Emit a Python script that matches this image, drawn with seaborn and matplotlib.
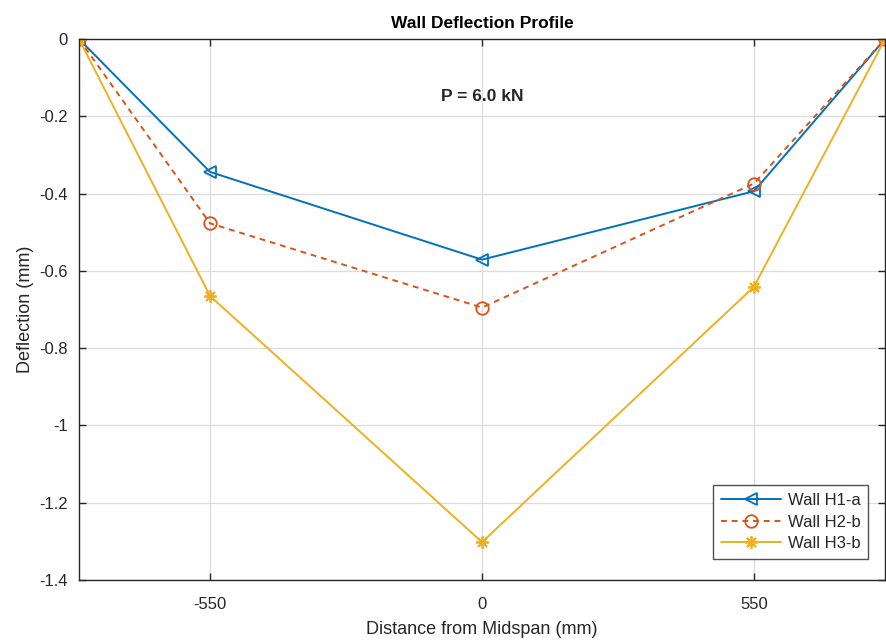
import matplotlib
matplotlib.use("Agg")
import matplotlib.pyplot as plt
import seaborn as sns
import pandas as pd

x_mm = [-815, -550, 0, 550, 815]
h1a = [0.0, -0.344, -0.571, -0.394, 0.0]
h2b = [0.0, -0.477, -0.695, -0.374, 0.0]
h3b = [0.0, -0.665, -1.302, -0.641, 0.0]
series_names = ["Wall H1-a", "Wall H2-b", "Wall H3-b"]
x_ticks = [-550, 0, 550]
y_ticks = [0, -0.2, -0.4, -0.6, -0.8, -1.0, -1.2, -1.4]
y_ticklabels = ["0", "-0.2", "-0.4", "-0.6", "-0.8", "-1", "-1.2", "-1.4"]

sns.set_style("white")
plt.rcParams["font.family"] = ["Liberation Sans", "DejaVu Sans"]

fig = plt.figure(figsize=(8.86, 6.44), dpi=100)
ax = fig.add_axes([79/886, 64/644, 806/886, 541/644])

colors = ["#0072BD", "#D95319", "#EDB120"]
marker_list = ["<", "o", (8, 2, 0)]
line_styles = ["-", (0, (3, 2.5)), "-"]

for name, vals, c, m, ls in zip(series_names, [h1a, h2b, h3b], colors, marker_list, line_styles):
    df = pd.DataFrame({"x": x_mm, "y": vals})
    sns.lineplot(data=df, x="x", y="y", color=c, marker=m, linestyle=ls,
                 markersize=9, markerfacecolor="none", markeredgecolor=c,
                 markeredgewidth=1.3, linewidth=1.4, ax=ax, sort=False, label=name)

ax.set_xlim(-815, 815)
ax.set_ylim(-1.4, 0)
ax.set_xticks(x_ticks)
ax.set_xticklabels([str(t) for t in x_ticks])
ax.set_yticks(y_ticks)
ax.set_yticklabels(y_ticklabels)
ax.grid(True, color="#dcdcdc", linewidth=0.9)
ax.set_axisbelow(True)
for s in ax.spines.values():
    s.set_visible(True)
    s.set_color("#262626")
    s.set_linewidth(1.0)
ax.tick_params(direction="in", length=5, width=1, color="#262626",
               labelsize=12, labelcolor="#262626", top=True, right=True,
               left=True, bottom=True)
ax.tick_params(axis="x", pad=12)
ax.tick_params(axis="y", pad=8)

ax.set_xlabel("Distance from Midspan (mm)", fontsize=13, color="#262626", labelpad=7)
ax.set_ylabel("Deflection (mm)", fontsize=13, color="#262626", labelpad=4)
ax.set_title("Wall Deflection Profile", fontsize=12.5, fontweight="bold", color="#000000", pad=8)
ax.text(0, -0.15, "P = 6.0 kN", ha="center", va="center", fontsize=12.5, fontweight="bold")

leg = ax.legend(loc="lower right", bbox_to_anchor=(0.985, 0.03), frameon=True,
                fancybox=False, edgecolor="#262626", fontsize=12,
                handlelength=3.6, borderpad=0.45, labelspacing=0.4, handletextpad=0.4,
                borderaxespad=0.3)
leg.get_frame().set_linewidth(1.0)

fig.savefig("out.png", dpi=100)
